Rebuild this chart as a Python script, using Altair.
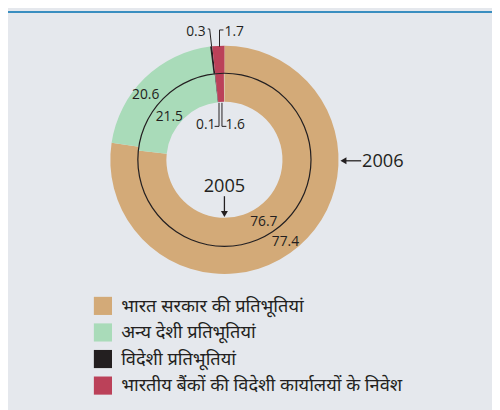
import altair as alt
import pandas as pd

categories = [
    "भारत सरकार की प्रतिभूतियां",
    "अन्य देशी प्रतिभूतियां",
    "विदेशी प्रतिभूतियां",
    "भारतीय बैंकों की विदेशी कार्यालयों के निवेश",
]
values_2006 = [77.4, 20.6, 0.3, 1.7]
values_2005 = [76.7, 21.5, 0.1, 1.6]
colors = ["#d3aa78", "#a9dbb9", "#231f20", "#bb4159"]

rows = []
for i, c in enumerate(categories):
    rows.append({"year": "2006", "category": c, "value": values_2006[i], "order": i})
    rows.append({"year": "2005", "category": c, "value": values_2005[i], "order": i})
df = pd.DataFrame(rows)

CX, CY = 220, 151
BG = "#e5e8ed"
INK = "#231f20"
FONT = "Open Sans"

color = alt.Color(
    "category:N",
    scale=alt.Scale(domain=categories, range=colors),
    sort=categories,
    legend=alt.Legend(
        title=None, orient="none", legendX=87, legendY=290,
        symbolType="square", symbolSize=340, symbolStrokeWidth=0,
        labelFont="Noto Sans", labelFontSize=18.5, labelColor=INK,
        labelLimit=400, rowPadding=8, labelOffset=9,
    ),
)
theta = alt.Theta("value:Q", stack=True, scale=alt.Scale(domain=[0, 100]))

outer = alt.Chart(df).transform_filter(alt.datum.year == "2006").mark_arc(
    radius=116, radius2=88, stroke=None
).encode(theta=theta, color=color, order="order:Q",
         x=alt.value(CX), y=alt.value(CY))

inner = alt.Chart(df).transform_filter(alt.datum.year == "2005").mark_arc(
    radius=88, radius2=59
).encode(theta=theta, color=alt.Color("category:N", scale=alt.Scale(domain=categories, range=colors), legend=None),
         order="order:Q", x=alt.value(CX), y=alt.value(CY))

base = alt.Chart(pd.DataFrame({"a": [0]}))

divider = base.mark_arc(radius=88.6, radius2=87.4, theta=0, theta2=6.2832, color=INK).encode(
    x=alt.value(CX), y=alt.value(CY))


def label(txt, x, y, size=14, align="center"):
    return base.mark_text(font=FONT, fontSize=size, color=INK, align=align, baseline="middle").encode(
        x=alt.value(x), y=alt.value(y), text=alt.value(txt))


def seg(x1, y1, x2, y2, w=1):
    return base.mark_rule(color=INK, strokeWidth=w).encode(
        x=alt.value(x1), y=alt.value(y1), x2=alt.value(x2), y2=alt.value(y2))


def tri(shape, x, y):
    return base.mark_point(shape=shape, filled=True, color=INK, size=50, opacity=1).encode(
        x=alt.value(x), y=alt.value(y))


o = 8  # page margin offset
layers = [
    outer, inner, divider,
    label("77.4", 290 - o, 243 - o),
    label("76.7", 268 - o, 222 - o),
    label("20.6", 148 - o, 93 - o),
    label("21.5", 172 - o, 116 - o),
    label("0.3", 199 - o, 29 - o),
    label("1.7", 238 - o, 29 - o),
    label("0.1", 209 - o, 124 - o),
    label("1.6", 239 - o, 124 - o),
    label("2006", 389 - o, 160 - o, size=18.5),
    label("2005", 228 - o, 186 - o, size=18.5),
    # leader lines
    seg(211 - o, 26 - o, 213 - o, 26 - o),
    seg(213 - o, 26 - o, 215 - o, 44 - o),
    seg(223 - o, 27 - o, 227 - o, 27 - o),
    seg(223 - o, 27 - o, 223 - o, 44 - o),
    seg(222.5 - o, 101 - o, 222.5 - o, 125 - o),
    seg(218 - o, 125 - o, 222.5 - o, 125 - o),
    seg(225.5 - o, 101 - o, 225.5 - o, 125 - o),
    seg(225.5 - o, 125 - o, 230 - o, 125 - o),
    # arrows
    seg(350 - o, 160 - o, 367 - o, 160 - o, 1.3),
    tri("triangle-left", 349 - o, 160 - o),
    seg(228 - o, 196 - o, 228 - o, 213 - o, 1.3),
    tri("triangle-down", 228 - o, 214 - o),
    # top band
    base.mark_rect(color="#0070b0").encode(x=alt.value(0), x2=alt.value(492), y=alt.value(0), y2=alt.value(1.5)),
]

chart = alt.layer(*layers).properties(
    width=492, height=402, padding=0,
    autosize=alt.AutoSizeParams(type="fit", contains="padding"),
    background=BG,
).configure_view(stroke=None, fill=BG)

chart.save("out.html", embed_options={"renderer": "svg", "actions": False})
